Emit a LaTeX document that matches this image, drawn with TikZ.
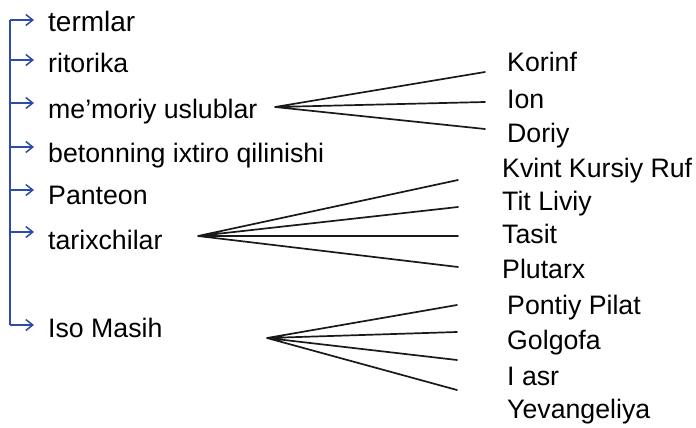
\documentclass[tikz,border=0pt]{standalone}
\usepackage{fontspec}
\setmainfont{Liberation Sans}
\usetikzlibrary{arrows.meta}
\definecolor{lineblue}{RGB}{45,75,170}
\tikzset{
  lbl/.style={anchor=base west,inner sep=0pt,font=\fontsize{26.7}{30}\selectfont},
  bigl/.style={lbl,font=\fontsize{28}{30}\selectfont},
  barrow/.style={draw=lineblue,line width=1.5pt,-{Straight Barb[length=7pt,width=11pt,line width=1.5pt]}},
  bline/.style={draw=lineblue,line width=1.5pt},
  fan/.style={draw=black!90,line width=1.7pt,line cap=round}
}
\begin{document}
\begin{tikzpicture}[x=1pt,y=-1pt]
\useasboundingbox (0,0) rectangle (696,428);
% left column
\node[bigl] (t1) at (48,31.7) {termlar};
\node[lbl] (t2) at (48,73) {ritorika};
\node[lbl] (t3) at (48,118) {me’moriy uslublar};
\node[lbl] (t4) at (48,162) {betonning ixtiro qilinishi};
\node[lbl] (t5) at (48,204) {Panteon};
\node[lbl] (t6) at (48,249) {tarixchilar};
\node[lbl] (t7) at (48,337) {Iso Masih};
% bracket
\coordinate (top) at (10,20);
\coordinate (bot) at (10,325);
\coordinate (a1) at (34,20);
\coordinate (a2) at (34,60);
\coordinate (a3) at (34,103);
\coordinate (a4) at (34,147);
\coordinate (a5) at (34,190);
\coordinate (a6) at (34,232);
\coordinate (a7) at (34,325);
\path[bline] (top) -- (bot);
\foreach \i/\y in {1/20,2/60,3/103,4/147,5/190,6/232,7/325}
  \path[barrow] (10,\y) -- (a\i);
% right column
\node[lbl] (r1) at (507,71.7) {Korinf};
\node[lbl] (r2) at (507,108) {Ion};
\node[lbl] (r3) at (507,142) {Doriy};
\node[lbl] (r4) at (502,177) {Kvint Kursiy Ruf};
\node[lbl] (r5) at (502,210) {Tit Liviy};
\node[lbl] (r6) at (502,243) {Tasit};
\node[lbl] (r7) at (502,278) {Plutarx};
\node[lbl] (r8) at (507,314) {Pontiy Pilat};
\node[lbl] (r9) at (507,349) {Golgofa};
\node[lbl] (r10) at (507,385) {I asr};
\node[lbl] (r11) at (507,418) {Yevangeliya};
% fans
\coordinate (m0) at (275,107);
\coordinate (m1) at (485,72);
\coordinate (m2) at (485,102);
\coordinate (m3) at (485,129);
\path[fan] (m0) -- (m1) (m0) -- (m2) (m0) -- (m3);
\coordinate (h0) at (198,236);
\coordinate (h1) at (458,180);
\coordinate (h2) at (458,207);
\coordinate (h3) at (458,236);
\coordinate (h4) at (458,267);
\path[fan] (h0) -- (h1) (h0) -- (h2) (h0) -- (h3) (h0) -- (h4);
\coordinate (i0) at (267,338);
\coordinate (i1) at (457,305);
\coordinate (i2) at (457,332);
\coordinate (i3) at (457,360);
\coordinate (i4) at (457,390);
\path[fan] (i0) -- (i1) (i0) -- (i2) (i0) -- (i3) (i0) -- (i4);
\end{tikzpicture}
\end{document}
